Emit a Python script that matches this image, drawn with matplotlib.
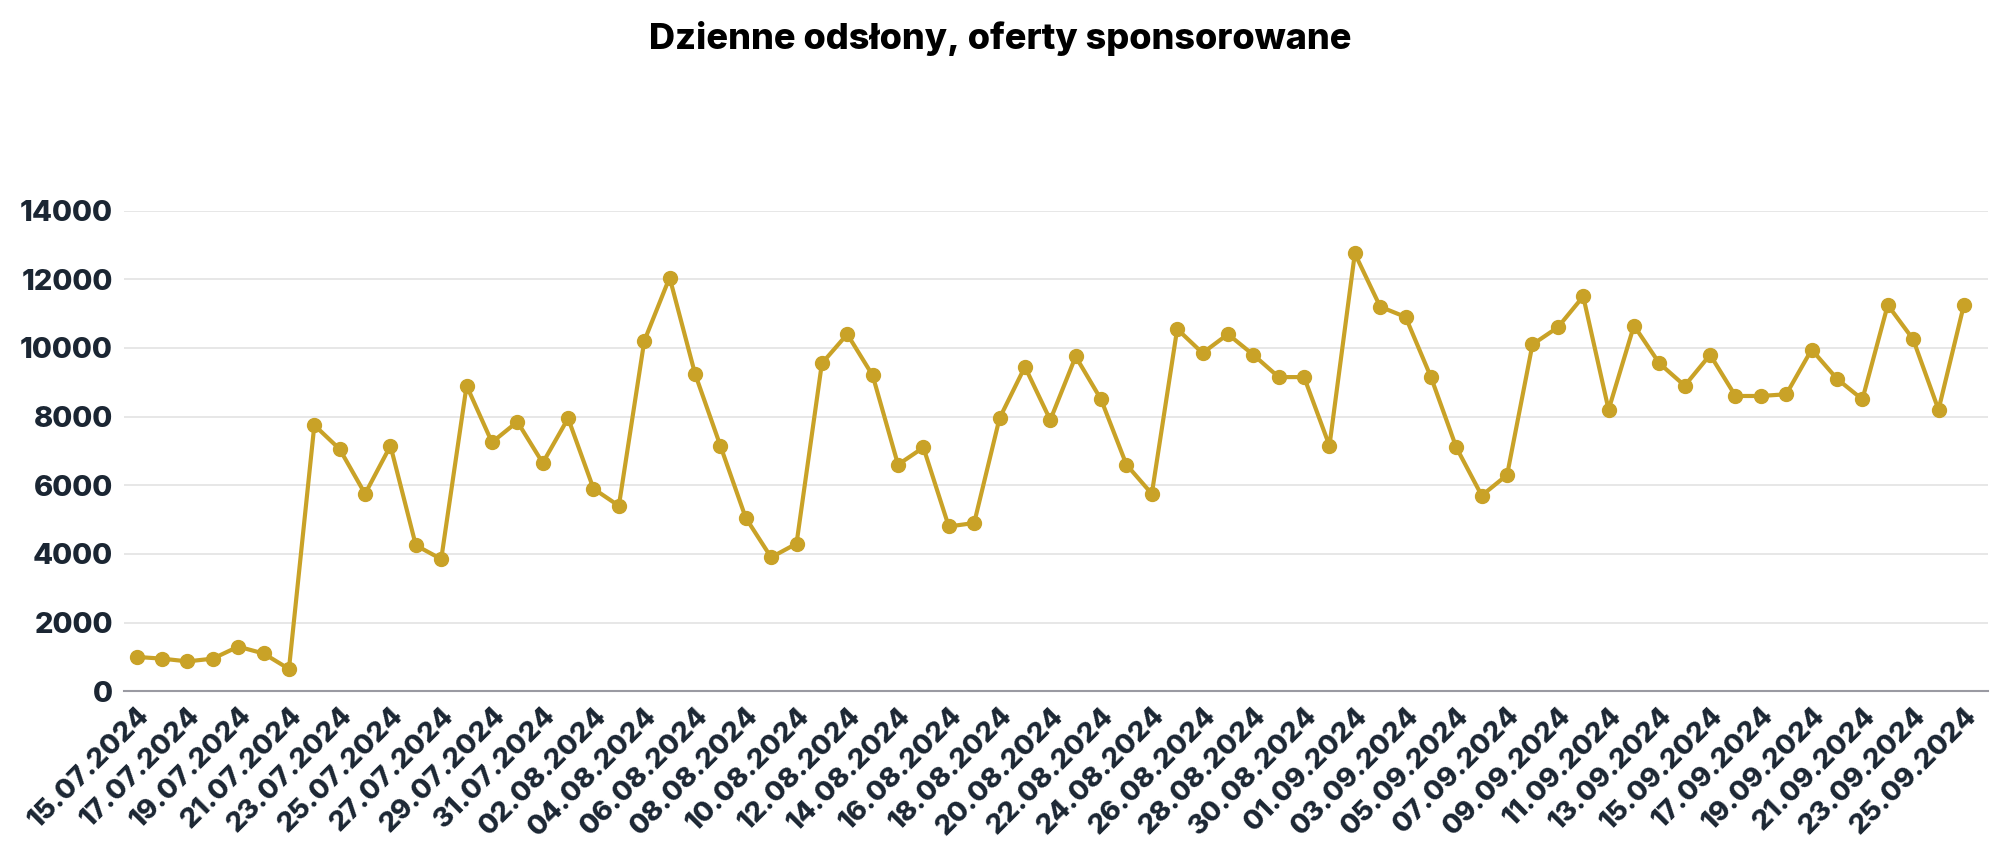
import matplotlib
matplotlib.use("Agg")
import matplotlib.pyplot as plt
import pandas as pd

dates = pd.date_range("2024-07-15", "2024-09-25", freq="D")
labels = [d.strftime("%d.%m.%Y") for d in dates]
values = [1000, 950, 870, 950, 1300, 1100, 650, 7750, 7050, 5750, 7150, 4250, 3850, 8900,
          7250, 7850, 6650, 7950, 5900, 5400, 10200, 12050, 9250, 7150, 5050, 3900, 4300,
          9550, 10400, 9200, 6600, 7100, 4800, 4900, 7950, 9450, 7900, 9750, 8500, 6600,
          5750, 10550, 9850, 10400, 9800, 9150, 9150, 7150, 12750, 11200, 10900, 9150,
          7100, 5700, 6300, 10100, 10600, 11500, 8200, 10650, 9550, 8900, 9800, 8600,
          8600, 8650, 9950, 9100, 8500, 11250, 10250, 8200, 11250]

plt.rcParams['font.family'] = ['Inter', 'DejaVu Sans']
fig = plt.figure(figsize=(20, 8.63), dpi=100)
ax = fig.add_axes([0.062, 0.199, 0.932, 0.557])
x = list(range(len(values)))
ax.plot(x, values, color="#C9A227", lw=3, marker="o", ms=10, zorder=3)
ax.set_xlim(-0.5, len(values) - 1 + 0.95)
ax.set_ylim(0, 14000)
ax.set_yticks(range(0, 14001, 2000))
ax.set_xticks(x[::2])
ax.set_xticklabels(labels[::2], rotation=45, ha="right", rotation_mode="anchor",
                   fontsize=20, fontweight="heavy", color="#1b2633")
for t in ax.get_yticklabels():
    t.set_fontsize(21); t.set_fontweight("heavy"); t.set_color("#1b2633")
ax.grid(axis="y", color="#e3e3e3", lw=1.2)
ax.set_axisbelow(True)
for s in ["top", "right", "left"]:
    ax.spines[s].set_visible(False)
ax.spines["bottom"].set_color("#9a9aa2")
ax.spines["bottom"].set_linewidth(1.5)
ax.tick_params(axis="both", length=0, pad=8)
fig.text(0.5, 0.955, "Dzienne odsłony, oferty sponsorowane", ha="center", va="center",
         fontsize=26, fontweight="heavy", color="black")
fig.savefig("out.png")
